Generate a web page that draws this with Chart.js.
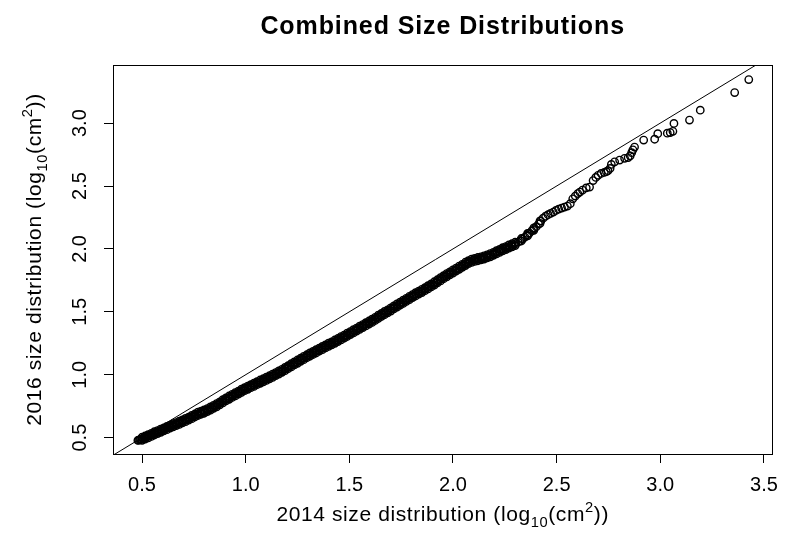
<!DOCTYPE html>
<html>
<head>
<meta charset="utf-8">
<script src="https://cdn.jsdelivr.net/npm/chart.js@4.4.1/dist/chart.umd.min.js"></script>
<style>
  html, body { margin: 0; padding: 0; background: #fff; }
  #wrap { width: 788px; height: 539px; }
</style>
</head>
<body>
<div id="wrap"><canvas id="chart"></canvas></div>
<script>
"use strict";

const chartTitle = "Combined Size Distributions";
// axis titles as [text, kind] pieces so log10 and cm2 can get sub/superscripts
const xTitleParts = [["2014 size distribution (log", ""], ["10", "sub"], ["(cm", ""], ["2", "sup"], ["))", ""]];
const yTitleParts = [["2016 size distribution (log", ""], ["10", "sub"], ["(cm", ""], ["2", "sup"], ["))", ""]];

const xTickValues = [0.5, 1.0, 1.5, 2.0, 2.5, 3.0, 3.5];
const yTickValues = [0.5, 1.0, 1.5, 2.0, 2.5, 3.0];

// sorted quantiles (centre of the band + sparse tail)
const sizes2014 = [
  0.480, 0.484, 0.489, 0.493, 0.498, 0.503, 0.508, 0.514, 0.519, 0.525, 0.531, 0.537, 0.543, 0.549, 0.556, 0.562, 0.569, 0.576, 0.583, 0.590, 0.597,
  0.604, 0.611, 0.618, 0.625, 0.632, 0.639, 0.646, 0.654, 0.661, 0.668, 0.676, 0.684, 0.692, 0.700, 0.708, 0.716, 0.724,
  0.732, 0.740, 0.748, 0.756, 0.764, 0.772, 0.780, 0.788, 0.796, 0.804, 0.812, 0.820, 0.828, 0.836, 0.844, 0.852,
  0.860, 0.868, 0.876, 0.884, 0.892, 0.900, 0.908, 0.916, 0.924, 0.932, 0.940, 0.948, 0.956, 0.964, 0.972, 0.980, 0.988, 0.996,
  1.004, 1.012, 1.020, 1.029, 1.038, 1.047, 1.056, 1.065, 1.074, 1.083, 1.092, 1.101, 1.110, 1.119, 1.128, 1.137, 1.146, 1.155, 1.164, 1.173, 1.182, 1.191,
  1.200, 1.209, 1.218, 1.227, 1.236, 1.245, 1.254, 1.263, 1.272, 1.281, 1.290, 1.299, 1.308, 1.317, 1.326, 1.335, 1.344, 1.353,
  1.362, 1.371, 1.380, 1.389, 1.398, 1.407, 1.416, 1.425, 1.434, 1.443, 1.452, 1.461, 1.470, 1.479, 1.488, 1.497, 1.506, 1.515,
  1.524, 1.533, 1.542, 1.551, 1.560, 1.569, 1.578, 1.587, 1.596, 1.605, 1.614, 1.623, 1.632, 1.641, 1.650, 1.659, 1.668, 1.677, 1.686, 1.695, 1.704,
  1.713, 1.722, 1.731, 1.740, 1.749, 1.758, 1.767, 1.776, 1.785, 1.794, 1.803, 1.812, 1.821, 1.830, 1.839, 1.848, 1.857, 1.866, 1.875, 1.884,
  1.893, 1.902, 1.911, 1.920, 1.929, 1.938, 1.947, 1.956, 1.965, 1.974, 1.983, 1.992,
  2.001, 2.010, 2.019, 2.028, 2.037, 2.046, 2.055, 2.064, 2.073, 2.082, 2.092, 2.102, 2.112, 2.122, 2.132, 2.142, 2.152, 2.162, 2.172, 2.182,
  2.192, 2.202, 2.212, 2.222, 2.232, 2.242, 2.252, 2.262, 2.272, 2.282, 2.292,
  2.303, 2.314, 2.325, 2.336, 2.347, 2.358, 2.369, 2.380, 2.391, 2.402, 2.413, 2.424, 2.435, 2.447, 2.459, 2.471, 2.484, 2.497, 2.510, 2.524,
  2.538, 2.552, 2.566, 2.578, 2.590, 2.602,
  2.612, 2.625, 2.643, 2.659, 2.676, 2.689, 2.700, 2.715, 2.730, 2.740, 2.748, 2.758, 2.764, 2.780, 2.804, 2.828, 2.845, 2.855, 2.862, 2.868,
  2.876, 2.920, 2.973, 2.988, 3.034, 3.048, 3.061, 3.066, 3.141, 3.193, 3.359, 3.427
];
const sizes2016 = [
  0.478, 0.481, 0.484, 0.487, 0.490, 0.493, 0.497, 0.501, 0.504, 0.508, 0.512, 0.517, 0.521, 0.525, 0.531, 0.536, 0.540, 0.545, 0.550, 0.555, 0.560,
  0.565, 0.570, 0.575, 0.580, 0.585, 0.590, 0.595, 0.600, 0.605, 0.610, 0.616, 0.621, 0.627, 0.633, 0.639, 0.645, 0.651,
  0.657, 0.664, 0.670, 0.677, 0.683, 0.689, 0.695, 0.700, 0.705, 0.710, 0.716, 0.722, 0.729, 0.737, 0.744, 0.751,
  0.758, 0.766, 0.774, 0.783, 0.791, 0.800, 0.807, 0.815, 0.822, 0.829, 0.836, 0.843, 0.851, 0.858, 0.865, 0.872, 0.879, 0.886,
  0.893, 0.899, 0.905, 0.912, 0.919, 0.927, 0.934, 0.941, 0.948, 0.955, 0.962, 0.969, 0.976, 0.983, 0.991, 0.998, 1.006, 1.014, 1.021, 1.029, 1.037, 1.046,
  1.055, 1.064, 1.073, 1.082, 1.091, 1.100, 1.108, 1.117, 1.126, 1.134, 1.142, 1.150, 1.158, 1.166, 1.174, 1.182, 1.190, 1.198,
  1.206, 1.213, 1.221, 1.229, 1.236, 1.244, 1.251, 1.259, 1.267, 1.274, 1.283, 1.291, 1.299, 1.307, 1.315, 1.323, 1.331, 1.339,
  1.349, 1.357, 1.366, 1.374, 1.383, 1.391, 1.400, 1.408, 1.416, 1.425, 1.434, 1.443, 1.452, 1.461, 1.470, 1.479, 1.488, 1.496, 1.505, 1.514, 1.523,
  1.532, 1.541, 1.550, 1.560, 1.569, 1.578, 1.587, 1.596, 1.605, 1.614, 1.623, 1.631, 1.640, 1.648, 1.656, 1.664, 1.672, 1.681, 1.690, 1.699,
  1.708, 1.717, 1.727, 1.737, 1.747, 1.757, 1.767, 1.777, 1.786, 1.795, 1.804, 1.813,
  1.822, 1.831, 1.840, 1.849, 1.858, 1.867, 1.876, 1.884, 1.893, 1.901, 1.907, 1.912, 1.916, 1.920, 1.924, 1.928, 1.933, 1.939, 1.945, 1.951,
  1.958, 1.966, 1.974, 1.982, 1.990, 1.998, 2.005, 2.012, 2.019, 2.026, 2.033,
  2.042, 2.054, 2.066, 2.079, 2.094, 2.110, 2.126, 2.143, 2.160, 2.177, 2.198, 2.222, 2.244, 2.260, 2.272, 2.282, 2.293, 2.306, 2.316, 2.325,
  2.333, 2.341, 2.360, 2.398, 2.420, 2.440,
  2.452, 2.468, 2.485, 2.492, 2.543, 2.568, 2.585, 2.600, 2.608, 2.614, 2.622, 2.640, 2.672, 2.692, 2.706, 2.720, 2.726, 2.740, 2.765, 2.788,
  2.810, 2.865, 2.872, 2.916, 2.920, 2.925, 2.935, 2.998, 3.024, 3.103, 3.243, 3.346
];

// extra points read along the upper and lower edges of the dense band
const band2014 = [
  0.50, 0.53, 0.56, 0.59, 0.62, 0.65, 0.68, 0.71, 0.74, 0.77, 0.80, 0.83, 0.86, 0.89, 0.92, 0.95, 0.98, 1.01, 1.04, 1.07,
  1.10, 1.13, 1.16, 1.19, 1.22, 1.25, 1.28, 1.31, 1.34, 1.37, 1.40, 1.43, 1.46, 1.49, 1.52, 1.55, 1.58, 1.61, 1.64, 1.67,
  1.70, 1.73, 1.76, 1.79, 1.82, 1.85, 1.88, 1.91, 1.94, 1.97, 2.00, 2.03, 2.06, 2.09, 2.12, 2.15, 2.18, 2.21, 2.24, 2.27, 2.30,
  2.33, 2.36, 2.39, 2.42,
  0.515, 0.545, 0.575, 0.605, 0.635, 0.665, 0.695, 0.725, 0.755, 0.785, 0.815, 0.845, 0.875, 0.905, 0.935, 0.965, 0.995, 1.025, 1.055, 1.085,
  1.115, 1.145, 1.175, 1.205, 1.235, 1.265, 1.295, 1.325, 1.355, 1.385, 1.415, 1.445, 1.475, 1.505, 1.535, 1.565, 1.595, 1.625, 1.655, 1.685,
  1.715, 1.745, 1.775, 1.805, 1.835, 1.865, 1.895, 1.925, 1.955, 1.985, 2.015, 2.045, 2.075, 2.105, 2.135, 2.165, 2.195, 2.225, 2.255, 2.285
];
const bandUpper2016 = [
  0.503, 0.524, 0.547, 0.568, 0.589, 0.611, 0.631, 0.653, 0.677, 0.702, 0.720, 0.744, 0.771, 0.802, 0.831, 0.858, 0.885, 0.910, 0.933, 0.958,
  0.981, 1.005, 1.031, 1.058, 1.088, 1.117, 1.146, 1.173, 1.199, 1.225, 1.251, 1.276, 1.303, 1.330, 1.358, 1.386, 1.414, 1.442, 1.473, 1.503,
  1.532, 1.563, 1.593, 1.623, 1.652, 1.679, 1.708, 1.739, 1.772, 1.804, 1.834, 1.864, 1.894, 1.919, 1.932, 1.945, 1.963, 1.986, 2.010, 2.032, 2.053,
  2.083, 2.123, 2.168, 2.223,
  0.513, 0.534, 0.556, 0.578, 0.599, 0.620, 0.641, 0.663, 0.688, 0.710, 0.731, 0.757, 0.785, 0.816, 0.844, 0.870, 0.897, 0.921, 0.945, 0.968,
  0.992, 1.017, 1.043, 1.072, 1.102, 1.131, 1.159, 1.185, 1.211, 1.237, 1.262, 1.288, 1.315, 1.343, 1.371, 1.399, 1.427, 1.456, 1.487, 1.516,
  1.547, 1.577, 1.607, 1.637, 1.665, 1.692, 1.722, 1.755, 1.787, 1.818, 1.848, 1.878, 1.907, 1.925, 1.937, 1.953, 1.973, 1.996, 2.019, 2.041
];
const bandLower2016 = [
  0.479, 0.498, 0.521, 0.542, 0.563, 0.585, 0.605, 0.627, 0.651, 0.676, 0.694, 0.718, 0.745, 0.776, 0.805, 0.832, 0.859, 0.884, 0.907, 0.932,
  0.955, 0.979, 1.005, 1.032, 1.062, 1.091, 1.120, 1.147, 1.173, 1.199, 1.225, 1.250, 1.277, 1.304, 1.332, 1.360, 1.388, 1.416, 1.447, 1.477,
  1.506, 1.537, 1.567, 1.597, 1.626, 1.653, 1.682, 1.713, 1.746, 1.778, 1.808, 1.838, 1.868, 1.893, 1.906, 1.919, 1.937, 1.960, 1.984, 2.006, 2.027,
  2.063, 2.103, 2.148, 2.203,
  0.489, 0.510, 0.532, 0.554, 0.575, 0.596, 0.617, 0.639, 0.664, 0.686, 0.707, 0.733, 0.761, 0.792, 0.820, 0.846, 0.873, 0.897, 0.921, 0.944,
  0.968, 0.993, 1.019, 1.048, 1.078, 1.107, 1.135, 1.161, 1.187, 1.213, 1.238, 1.264, 1.291, 1.319, 1.347, 1.375, 1.403, 1.432, 1.463, 1.492,
  1.523, 1.553, 1.583, 1.613, 1.641, 1.668, 1.698, 1.731, 1.763, 1.794, 1.824, 1.854, 1.883, 1.901, 1.913, 1.929, 1.949, 1.972, 1.995, 2.017
];

// ends of the y = x reference line (clipped to the plot box)
const identityEnds = [0.2, 3.7];

const fontFamily = "'Liberation Sans', Arial, sans-serif";
Chart.defaults.font.family = fontFamily;
Chart.defaults.color = "#000";

function richWidth(ctx, parts, size) {
  let w = 0;
  for (const [text, kind] of parts) {
    ctx.font = `${kind ? size * 0.7 : size}px ${fontFamily}`;
    w += ctx.measureText(text).width;
  }
  return w;
}

function drawRich(ctx, parts, size, x, y) {
  for (const [text, kind] of parts) {
    ctx.font = `${kind ? size * 0.7 : size}px ${fontFamily}`;
    const dy = kind === "sub" ? size * 0.27 : kind === "sup" ? -size * 0.45 : 0;
    ctx.fillText(text, x, y + dy);
    x += ctx.measureText(text).width;
  }
}

// R-style frame box plus title and axis titles
const framePlugin = {
  id: "frame",
  afterDraw(chart) {
    const { ctx, chartArea: a } = chart;
    ctx.save();
    ctx.strokeStyle = "#000";
    ctx.lineWidth = 1;
    ctx.strokeRect(Math.round(a.left) + 0.5, Math.round(a.top) + 0.5,
      Math.round(a.right - a.left), Math.round(a.bottom - a.top));

    const cx = (a.left + a.right) / 2;
    const cy = (a.top + a.bottom) / 2;
    ctx.fillStyle = "#000";
    ctx.textBaseline = "alphabetic";

    ctx.font = `bold 25px ${fontFamily}`;
    ctx.letterSpacing = "0.9px";
    ctx.textAlign = "center";
    ctx.fillText(chartTitle, cx, 34);

    ctx.letterSpacing = "0.6px";
    ctx.textAlign = "left";
    const wx = richWidth(ctx, xTitleParts, 21);
    drawRich(ctx, xTitleParts, 21, cx - wx / 2, 521);

    const wy = richWidth(ctx, yTitleParts, 21);
    ctx.translate(41, cy);
    ctx.rotate(-Math.PI / 2);
    drawRich(ctx, yTitleParts, 21, -wy / 2, 0);
    ctx.restore();
  },
};

const tickGrid = {
  display: true,
  drawOnChartArea: false,
  drawTicks: true,
  tickLength: 9,
  color: "#000",
  lineWidth: 1,
};

const qqPoints = sizes2014.map((x, i) => ({ x, y: sizes2016[i] }))
  .concat(band2014.map((x, i) => ({ x, y: bandUpper2016[i] })))
  .concat(band2014.map((x, i) => ({ x, y: bandLower2016[i] })));

new Chart(document.getElementById("chart"), {
  type: "scatter",
  data: {
    datasets: [
      {
        label: "Quantiles",
        data: qqPoints,
        pointStyle: "circle",
        pointRadius: 3.7,
        pointHoverRadius: 3.7,
        pointBorderWidth: 1.4,
        pointBorderColor: "#000",
        pointBackgroundColor: "rgba(0,0,0,0)",
      },
      {
        label: "1:1",
        data: identityEnds.map((v) => ({ x: v, y: v })),
        showLine: true,
        pointRadius: 0,
        borderColor: "#000",
        borderWidth: 1,
      },
    ],
  },
  options: {
    responsive: true,
    maintainAspectRatio: false,
    animation: false,
    events: [],
    layout: { padding: { top: 65, right: 15, left: 0, bottom: 0 } },
    plugins: {
      legend: { display: false },
      title: { display: false },
      tooltip: { enabled: false },
    },
    scales: {
      x: {
        type: "linear",
        min: 0.36,
        max: 3.541,
        afterBuildTicks: (scale) => {
          scale.ticks = xTickValues.map((value) => ({ value }));
        },
        afterFit: (scale) => {
          scale.height = 85;
        },
        border: { display: false },
        grid: tickGrid,
        ticks: {
          autoSkip: false,
          maxRotation: 0,
          padding: 10,
          font: { size: 20 },
          color: "#000",
          callback: (v) => Number(v).toFixed(1),
        },
      },
      y: {
        type: "linear",
        min: 0.37,
        max: 3.462,
        afterBuildTicks: (scale) => {
          scale.ticks = yTickValues.map((value) => ({ value }));
        },
        afterFit: (scale) => {
          scale.width = 113;
        },
        border: { display: false },
        grid: tickGrid,
        ticks: {
          autoSkip: false,
          minRotation: 90,
          maxRotation: 90,
          crossAlign: "center",
          padding: 10,
          font: { size: 20 },
          color: "#000",
          callback: (v) => Number(v).toFixed(1),
        },
      },
    },
  },
  plugins: [framePlugin],
});
</script>
</body>
</html>
